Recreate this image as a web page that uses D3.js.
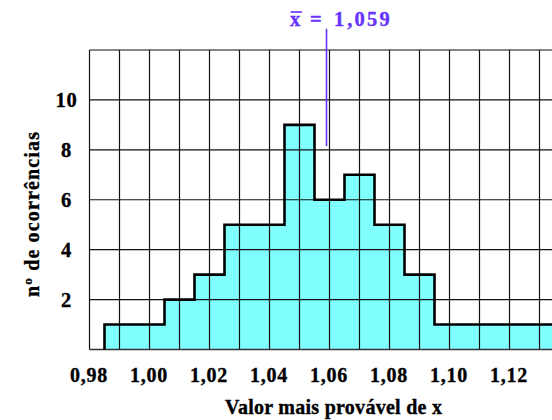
<!DOCTYPE html>
<html>
<head>
<meta charset="utf-8">
<script src="https://cdn.jsdelivr.net/npm/d3@7"></script>
<style>
  body { margin: 0; background: #fff; }
  svg { display: block; }
</style>
</head>
<body>
<svg id="chart" width="552" height="420"></svg>
<script>
// bin centres (width 0.01) and number of occurrences
const binCenters = [0.99, 1.00, 1.01, 1.02, 1.03, 1.04, 1.05, 1.06, 1.07, 1.08, 1.09, 1.10, 1.11, 1.12, 1.13];
const counts = [1, 1, 2, 3, 5, 5, 9, 6, 7, 5, 3, 1, 1, 1, 1];
const binWidth = 0.01;

const xTicks = [0.98, 1.00, 1.02, 1.04, 1.06, 1.08, 1.10, 1.12];
const yTicks = [2, 4, 6, 8, 10];
const xGrid = [0.98, 0.99, 1.00, 1.01, 1.02, 1.03, 1.04, 1.05, 1.06, 1.07, 1.08, 1.09, 1.10, 1.11, 1.12, 1.13];
const yGrid = [2, 4, 6, 8, 10, 12];

const mean = 1.059;
const meanLineSpan = [8.15, 12.85];

const font = "'Liberation Serif', 'Times New Roman', serif";
const purple = "#6633ff";

const svg = d3.select("#chart");

const x = d3.scaleLinear().domain([0.98, 1.135]).range([89.5, 554.5]);
const y = d3.scaleLinear().domain([0, 12]).range([349.5, 50]);

// bold bitmap-ish look: thin stroke in the text colour
function boldText(sel, color) {
  sel.attr("font-family", font)
    .attr("font-weight", "bold")
    .attr("fill", color)
    .attr("stroke", color)
    .attr("stroke-width", 0.35);
}

// histogram fill
const bins = binCenters.map((c, i) => ({ x0: c - binWidth / 2, x1: c + binWidth / 2, n: counts[i] }));
const stepPts = bins.map((b) => [b.x0, b.n]);
stepPts.push([bins[bins.length - 1].x1, bins[bins.length - 1].n]);

svg.append("path")
  .datum(stepPts)
  .attr("fill", "#80ffff")
  .attr("d", d3.area()
    .curve(d3.curveStepAfter)
    .x((d) => x(d[0]))
    .y0(y(0))
    .y1((d) => y(d[1])));

// grid
svg.append("g")
  .selectAll("line")
  .data(xGrid)
  .join("line")
  .attr("x1", (d) => x(d))
  .attr("x2", (d) => x(d))
  .attr("y1", y(0))
  .attr("y2", y(12))
  .attr("stroke", "#111")
  .attr("stroke-width", 1.2);

svg.append("g")
  .selectAll("line")
  .data(yGrid)
  .join("line")
  .attr("x1", x(0.98))
  .attr("x2", 552)
  .attr("y1", (d) => y(d))
  .attr("y2", (d) => y(d))
  .attr("stroke", "#111")
  .attr("stroke-width", 1.2);

// base line
svg.append("line")
  .attr("x1", x(0.98))
  .attr("x2", 552)
  .attr("y1", y(0))
  .attr("y2", y(0))
  .attr("stroke", "#333")
  .attr("stroke-width", 1.6);

// histogram outline
const outlinePts = [[bins[0].x0, 0]].concat(stepPts);
svg.append("path")
  .datum(outlinePts)
  .attr("fill", "none")
  .attr("stroke", "#000")
  .attr("stroke-width", 2.6)
  .attr("d", d3.line()
    .curve(d3.curveStepAfter)
    .x((d) => x(d[0]))
    .y((d) => y(d[1])));

// axes (labels only)
const xAxis = svg.append("g")
  .attr("transform", `translate(0,${y(0)})`)
  .call(d3.axisBottom(x)
    .tickValues(xTicks)
    .tickSize(0)
    .tickPadding(18)
    .tickFormat((d) => d3.format(".2f")(d).replace(".", ",")));
xAxis.select(".domain").remove();
xAxis.selectAll("text")
  .attr("dx", "-1")
  .attr("font-size", 20)
  .attr("letter-spacing", 0.8)
  .call(boldText, "#000");

const yAxis = svg.append("g")
  .attr("transform", `translate(${x(0.98)},0)`)
  .call(d3.axisLeft(y)
    .tickValues(yTicks)
    .tickSize(0)
    .tickPadding(23));
yAxis.select(".domain").remove();
yAxis.selectAll("text")
  .attr("text-anchor", "middle")
  .attr("font-size", 20.5)
  .attr("letter-spacing", 0.8)
  .call(boldText, "#000");

// axis titles
svg.append("text")
  .text("Valor mais provável de x")
  .attr("x", 225)
  .attr("y", 414)
  .attr("textLength", 217)
  .attr("lengthAdjust", "spacing")
  .attr("font-size", 20)
  .call(boldText, "#000");

svg.append("text")
  .text("nº de ocorrências")
  .attr("transform", "translate(39,297) rotate(-90)")
  .attr("textLength", 165)
  .attr("lengthAdjust", "spacing")
  .attr("font-size", 20)
  .call(boldText, "#000");

// mean marker
svg.append("line")
  .attr("x1", x(mean))
  .attr("x2", x(mean))
  .attr("y1", y(meanLineSpan[0]))
  .attr("y2", y(meanLineSpan[1]))
  .attr("stroke", purple)
  .attr("stroke-width", 1.6);

const meanLabel = svg.append("g")
  .attr("font-size", 20.5)
  .call(boldText, purple);
meanLabel.append("text").text("x").attr("x", 290).attr("y", 26);
meanLabel.append("line")
  .attr("x1", 290.5).attr("x2", 302)
  .attr("y1", 12).attr("y2", 12)
  .attr("stroke-width", 1.6);
meanLabel.append("text").text("=").attr("x", 310).attr("y", 26);

const meanStr = d3.format(".3f")(mean).replace(".", ",");
const meanText = meanLabel.append("text").attr("x", 334).attr("y", 26);
meanText.append("tspan").text(meanStr.slice(0, 1));
meanText.append("tspan").text(meanStr.slice(1))
  .attr("dx", 3)
  .attr("letter-spacing", 2.2);
</script>
</body>
</html>
